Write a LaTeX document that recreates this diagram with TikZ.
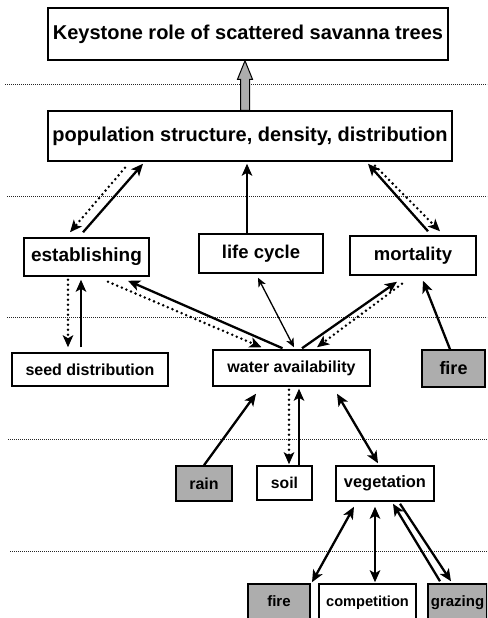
\documentclass[tikz,border=0pt]{standalone}
\usepackage{fontspec}
\setmainfont{Liberation Sans}
\usetikzlibrary{arrows.meta,calc}
\begin{document}
\begin{tikzpicture}[x=1pt,y=-1pt,
  box/.style={draw=black, line width=1.5pt, fill=white, inner sep=0pt, align=center},
  gbox/.style={box, fill=black!32},
  fs/.style={font=\bfseries\fontsize{#1}{#1}\selectfont},
  tip/.style={-{Stealth[length=12pt,width=10.5pt,inset=3pt]}},
  arr/.style={line width=2.3pt, tip},
  darr/.style={line width=2.8pt, line cap=round, dash pattern=on 0pt off 5pt, tip},
  dblarr/.style={line width=2.3pt, {Stealth[length=12pt,width=10.5pt,inset=3pt]}-{Stealth[length=12pt,width=10.5pt,inset=3pt]}},
  thinarr/.style={line width=1.3pt, {Stealth[length=9pt,width=8pt,inset=2.5pt]}-{Stealth[length=9pt,width=8pt,inset=2.5pt]}},
  sep/.style={line width=0.6pt, dash pattern=on 0.8pt off 1.2pt, black!85},
  bot/.style={minimum height=40pt, text height=12pt, text depth=8pt}
]
\useasboundingbox (0,0) rectangle (487,618);
\clip (0,0) rectangle (487,618);
\fill[white] (0,0) rectangle (487,618);

% separators
\draw[sep] (5,84) -- (487,84);
\draw[sep] (7,196) -- (487,196);
\draw[sep] (7,317) -- (487,317);
\draw[sep] (8,439) -- (487,439);
\draw[sep] (10,551) -- (487,551);

% nodes
\node[box, fs=20, minimum width=400pt, minimum height=52pt] (top) at (248,34) {Keystone role of scattered savanna trees};
\node[box, fs=20, minimum width=404pt, minimum height=50pt] (pop) at (250,136) {population structure, density, distribution};
\node[box, fs=19, minimum width=125pt, minimum height=38pt] (est) at (86.5,257) {establishing};
\node[box, fs=18.5, minimum width=124pt, minimum height=39pt] (life) at (261,253.5) {life cycle};
\node[box, fs=18.5, minimum width=126pt, minimum height=39pt] (mort) at (413,255.5) {mortality};
\node[box, fs=16, minimum width=156pt, minimum height=33pt] (seed) at (90,369.5) {seed distribution};
\node[box, fs=16, minimum width=157pt, minimum height=36pt] (water) at (291.5,368) {water availability};
\node[gbox, fs=18, minimum width=63pt, minimum height=37pt] (fireA) at (453.5,368.5) {fire};
\node[gbox, fs=16, minimum width=56pt, minimum height=35pt] (rain) at (204,483.5) {rain};
\node[box, fs=15.7, minimum width=55pt, minimum height=34pt] (soil) at (284.5,483) {soil};
\node[box, fs=16.4, minimum width=98pt, minimum height=35pt] (veg) at (385,483.5) {vegetation};
\node[gbox, fs=15, bot, minimum width=62pt] (fireB) at (279,604) {fire};
\node[box, fs=14.6, bot, minimum width=97pt] (comp) at (367.5,604) {competition};
\node[gbox, fs=15, bot, minimum width=59pt] (graz) at (457.5,604) {grazing};

% hatched arrow pop -> top
\filldraw[fill=black!32, line width=1pt, line join=miter]
  ($(pop.north)+(-9.5,0)$) -- ++(0,-31) -- ++(-3,0) -- ($(top.south)+(-3,0)$)
  -- ($(pop.north)+(2.5,-31)$) -- ++(-3,0) -- ($(pop.north)+(-0.5,0)$) -- cycle;

% establishing <-> population
\draw[arr] ($(est.north)+(-3.5,-5)$) -- ($(pop.south)+(-107,2)$);
\draw[darr] ($(pop.south)+(-125,6)$) -- ($(est.north)+(-16.5,-5)$);
% life cycle -> population
\draw[arr] ($(life.north)+(-14,0)$) -- ($(pop.south)+(-3,2)$);
% mortality <-> population
\draw[arr] ($(mort.north)+(15,-4)$) -- ($(pop.south)+(118,2)$);
\draw[darr] ($(pop.south)+(125,4)$) -- ($(mort.north)+(27,-4)$);
% establishing <-> seed distribution
\draw[darr] ($(est.south)+(-18.5,3)$) -- ($(seed.north)+(-22,-5)$);
\draw[arr] ($(seed.north)+(-9,-5)$) -- ($(est.south)+(-5.5,3)$);
% establishing <-> water
\draw[darr] ($(est.south)+(21.5,5)$) -- ($(water.north)+(-30,-2)$);
\draw[arr] ($(water.north)+(-9,-1)$) -- ($(est.south)+(41.5,4)$);
% life cycle <-> water
\draw[thinarr] ($(life.south)+(-3,4)$) -- ($(water.north)+(2.5,-2)$);
% water <-> mortality
\draw[arr] ($(water.north)+(10.5,-1)$) -- ($(mort.south)+(-16,6)$);
\draw[darr] ($(mort.south)+(-11,8)$) -- ($(water.north)+(25.5,-2)$);
% fire -> mortality
\draw[arr] ($(fireA.north)+(-3.5,0)$) -- ($(mort.south)+(10,5)$);
% rain -> water
\draw[arr] (rain.north) -- ($(water.south)+(-35.5,7)$);
% water <-> soil
\draw[darr] ($(water.south)+(-2.5,3)$) -- ($(soil.north)+(4.5,-1)$);
\draw[arr] ($(soil.north)+(14.5,0)$) -- ($(water.south)+(7.5,2)$);
% water <-> vegetation
\draw[dblarr] ($(water.south)+(45.5,7)$) -- ($(veg.north)+(-7,-2)$);
% vegetation <-> fire, competition, grazing
\draw[dblarr] ($(veg.south)+(-31,5)$) -- ($(fireB.north)+(33,-1)$);
\draw[dblarr] ($(veg.south)+(-10,5)$) -- ($(comp.north)+(7.5,-1)$);
\draw[arr] ($(graz.north)+(-17.5,-2)$) -- ($(veg.south)+(8,2)$);
\draw[arr] ($(veg.south)+(15,2)$) -- ($(graz.north)+(-6.5,-2)$);
\end{tikzpicture}
\end{document}
